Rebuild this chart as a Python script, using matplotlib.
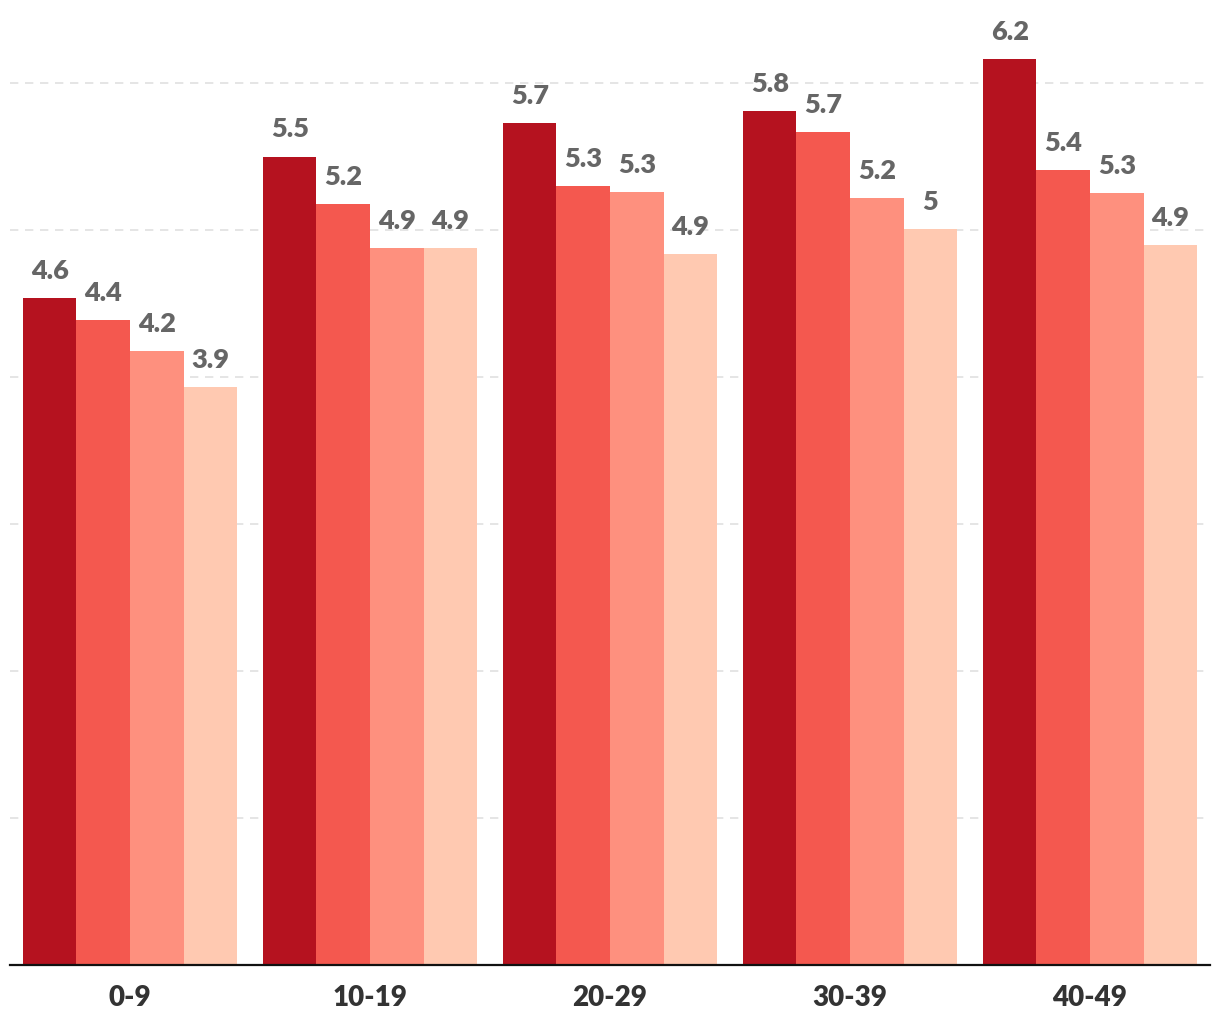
import matplotlib.pyplot as plt
import numpy as np

# age groups on the x axis
groups = ['0-9', '10-19', '20-29', '30-39', '40-49']

# bar heights for the four series
series_a = [4.54, 5.50, 5.73, 5.81, 6.16]
series_b = [4.39, 5.18, 5.30, 5.67, 5.41]
series_c = [4.18, 4.88, 5.26, 5.22, 5.25]
series_d = [3.93, 4.88, 4.84, 5.01, 4.90]

# value labels as printed above the bars
labels_a = ['4.6', '5.5', '5.7', '5.8', '6.2']
labels_b = ['4.4', '5.2', '5.3', '5.7', '5.4']
labels_c = ['4.2', '4.9', '5.3', '5.2', '5.3']
labels_d = ['3.9', '4.9', '4.9', '5', '4.9']

colors = ['#b5121f', '#f4584f', '#fe907e', '#ffc9b1']

plt.rcParams['font.family'] = ['Lato', 'DejaVu Sans']

fig = plt.figure(figsize=(12.2, 10.2), dpi=100)
ax = fig.add_axes([10 / 1220, 1 - 966 / 1020, 1200 / 1220, 966 / 1020])

x = np.arange(len(groups))
bar_w = 0.223
all_series = [series_a, series_b, series_c, series_d]
all_labels = [labels_a, labels_b, labels_c, labels_d]

for i, (vals, labs) in enumerate(zip(all_series, all_labels)):
    offs = (i - 1.5) * bar_w
    ax.bar(x + offs, vals, width=bar_w, color=colors[i], zorder=3)
    for xi, v, lab in zip(x, vals, labs):
        ax.annotate(lab, (xi + offs, v), xytext=(0, 16), textcoords='offset pixels',
                    ha='center', va='bottom', fontsize=19.5, fontweight='heavy',
                    color='#666666', zorder=4)

# grid every 1 unit, no y labels
for g in range(1, 7):
    ax.axhline(g, color='#e0e0e0', lw=1.2, linestyle=(0, (5, 4)), zorder=1)

ax.set_xlim(-0.5, 4.5)
ax.set_ylim(0, 966 / 147)
ax.set_yticks([])
ax.set_xticks(x)
ax.set_xticklabels(groups, fontsize=20, fontweight='heavy', color='#333333')
ax.tick_params(axis='x', length=0, pad=14)

for s in ['top', 'right', 'left']:
    ax.spines[s].set_visible(False)
ax.spines['bottom'].set_color('#111111')
ax.spines['bottom'].set_linewidth(1.6)
ax.spines['bottom'].set_zorder(5)

fig.savefig('out.png', dpi=100)
